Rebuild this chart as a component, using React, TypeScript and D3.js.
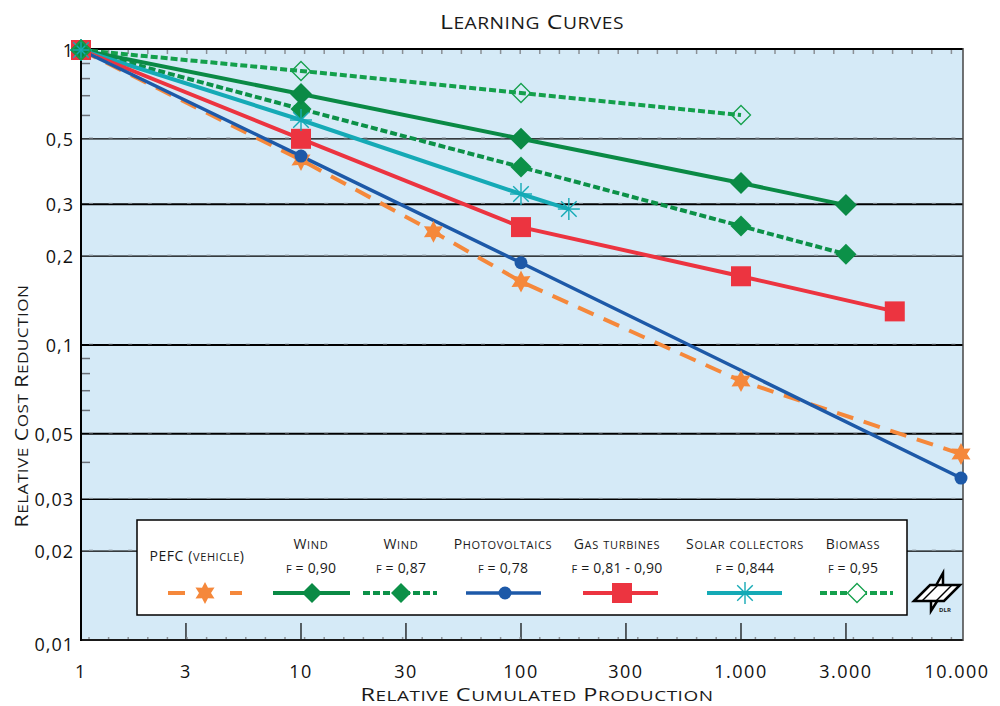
import React from "react";
import * as d3 from "d3";

// ---- data ----
const xTicks = [1, 3, 10, 30, 100, 300, 1000, 3000, 10000];
const xTickLabels = ["1", "3", "10", "30", "100", "300", "1.000", "3.000", "10.000"];
const yTicks = [1, 0.5, 0.3, 0.2, 0.1, 0.05, 0.03, 0.02, 0.01];
const yTickLabels = ["1", "0,5", "0,3", "0,2", "0,1", "0,05", "0,03", "0,02", "0,01"];
const yMinor = [0.9, 0.8, 0.7, 0.6, 0.09, 0.08, 0.07, 0.06, 0.04];

const pefcX = [1, 10, 40, 100, 1000, 10000];
const pefcY = [1, 0.424, 0.242, 0.164, 0.0755, 0.0427];
const wind90X = [1, 10, 100, 1000, 3000];
const wind90Y = [1, 0.709, 0.5, 0.354, 0.298];
const wind87X = [1, 10, 100, 1000, 3000];
const wind87Y = [1, 0.631, 0.401, 0.253, 0.203];
const pvX = [1, 10, 100, 10000];
const pvY = [1, 0.437, 0.19, 0.0354];
const gasX = [1, 10, 100, 1000, 5000];
const gasY = [1, 0.5, 0.251, 0.171, 0.13];
const solarX = [1, 10, 100, 165];
const solarY = [1, 0.579, 0.325, 0.289];
const bioX = [1, 10, 100, 1000];
const bioY = [1, 0.849, 0.715, 0.602];

const legendNames = ["Wind", "Wind", "Photovoltaics", "Gas turbines", "Solar collectors", "Biomass"];
const legendF = ["f = 0,90", "f = 0,87", "f = 0,78", "f = 0,81 - 0,90", "f = 0,844", "f = 0,95"];

const C = {
  orange: "#f5883b",
  green: "#0a8a45",
  green2: "#0c9148",
  blue: "#1d59a8",
  red: "#ec3440",
  teal: "#15aab6",
  bio: "#14a04c",
  bg: "#d5eaf7",
};

const FONT = "'Open Sans', 'DejaVu Sans', sans-serif";

const x = d3.scaleLog().domain([1, 10000]).range([81, 961]);
const y = d3.scaleLog().domain([0.01, 1]).range([640, 50]);

function starPath(cx: number, cy: number, R: number, r: number) {
  const pts: [number, number][] = [];
  for (let i = 0; i < 12; i++) {
    const a = -Math.PI / 2 + (i * Math.PI) / 6;
    const rr = i % 2 === 0 ? R : r;
    pts.push([cx + rr * Math.cos(a), cy + rr * Math.sin(a)]);
  }
  return "M" + pts.map((p) => p.join(",")).join("L") + "Z";
}

// small caps rendered with explicit sizes
function SC({ text, x: tx, y: ty, big, small, anchor = "middle", transform, textLength, spacing = 0.4, fill = "#1a1a1a" }: any) {
  const runs: { s: string; up: boolean }[] = [];
  for (const ch of text) {
    const isLower = ch !== ch.toUpperCase();
    const up = !isLower;
    const last = runs[runs.length - 1];
    if (last && last.up === up) last.s += ch;
    else runs.push({ s: ch, up });
  }
  return (
    <text
      x={tx}
      y={ty}
      textAnchor={anchor}
      transform={transform}
      textLength={textLength}
      lengthAdjust={textLength ? "spacingAndGlyphs" : undefined}
      letterSpacing={spacing}
      fill={fill}
    >
      {runs.map((r, i) => (
        <tspan key={i} fontSize={r.up ? big : small}>
          {r.s.toUpperCase()}
        </tspan>
      ))}
    </text>
  );
}

const Star = ({ cx, cy }: { cx: number; cy: number }) => (
  <path d={starPath(cx, cy, 11, 6)} fill={C.orange} />
);
const Diamond = ({ cx, cy, fill, stroke, r = 11 }: any) => (
  <path
    d={`M${cx},${cy - r}L${cx + r},${cy}L${cx},${cy + r}L${cx - r},${cy}Z`}
    fill={fill}
    stroke={stroke}
    strokeWidth={1.3}
  />
);
const Asterisk = ({ cx, cy }: { cx: number; cy: number }) => {
  const r = 11;
  const lines = [0, 45, 90, 135].map((a) => {
    const rad = (a * Math.PI) / 180;
    return (
      <line
        key={a}
        x1={cx - r * Math.cos(rad)}
        y1={cy - r * Math.sin(rad)}
        x2={cx + r * Math.cos(rad)}
        y2={cy + r * Math.sin(rad)}
        stroke={C.teal}
        strokeWidth={1.4}
      />
    );
  });
  return <g>{lines}</g>;
};

const line = (xs: number[], ys: number[]) =>
  d3
    .line<number>()
    .x((_, i) => x(xs[i]))
    .y((d) => y(d))(ys) as string;

export default function App() {
  const left = 81,
    right = 963,
    top = 50,
    bottom = 640;
  const gridMajor = [0.5, 0.3, 0.2, 0.1, 0.05, 0.03, 0.02];
  const thick = [0.3, 0.1, 0.05];
  const grayTicks: any[] = [];
  for (let xx = left + 8; xx < right; xx += 19.6) {
    grayTicks.push(<line key={"t" + xx} x1={xx} x2={xx} y1={top} y2={top + 4} stroke="#8a8f95" strokeWidth={1.5} />);
    grayTicks.push(<line key={"b" + xx} x1={xx} x2={xx} y1={bottom - 3} y2={bottom} stroke="#8a8f95" strokeWidth={1.5} />);
  }
  const legendCols = [311, 401, 503, 617, 745, 853];

  return (
    <svg
      width={1000}
      height={706}
      style={{ position: "absolute", left: 0, top: 0, fontFamily: FONT }}
    >
      <rect width={1000} height={706} fill="#fff" />
      {/* title */}
      <SC text="Learning Curves" x={532} y={29} big={20} small={15.5} textLength={184} />
      {/* plot background */}
      <rect x={left} y={top} width={right - left} height={bottom - top} fill={C.bg} />
      {/* gridlines */}
      {gridMajor.map((v) => (
        <g key={v}>
          <line x1={left} x2={right} y1={y(v)} y2={y(v)} stroke="#000" strokeWidth={thick.includes(v) ? 2 : 1.3} />
          <line x1={left + 8} x2={right} y1={y(v) - 1} y2={y(v) - 1} stroke="#9aa4ad" strokeWidth={1.2} strokeDasharray="4,15.6" opacity={0.8} />
        </g>
      ))}
      {yMinor.map((v) => (
        <line key={v} x1={left} x2={left + 9} y1={y(v)} y2={y(v)} stroke="#6b7078" strokeWidth={1.5} />
      ))}
      {xTicks.slice(1, -1).map((v) => (
        <line key={v} x1={x(v)} x2={x(v)} y1={bottom - 17} y2={bottom} stroke="#000" strokeWidth={1.2} />
      ))}
      {grayTicks}
      {/* frame */}
      <line x1={left} x2={right} y1={top - 1} y2={top - 1} stroke="#000" strokeWidth={2.2} />
      <line x1={left} x2={right} y1={bottom} y2={bottom} stroke="#1a1a1a" strokeWidth={2.2} />
      <line x1={left} x2={left} y1={top - 2} y2={bottom + 1} stroke="#000" strokeWidth={2} />
      <line x1={right} x2={right} y1={top - 2} y2={bottom + 1} stroke="#444" strokeWidth={1.5} />

      {/* series lines */}
      <path d={line(bioX, bioY)} fill="none" stroke={C.bio} strokeWidth={4} strokeDasharray="7,3" />
      <path d={line(wind87X, wind87Y)} fill="none" stroke={C.green2} strokeWidth={4} strokeDasharray="7,3" />
      <path d={line(wind90X, wind90Y)} fill="none" stroke={C.green} strokeWidth={4} />
      <path d={line(solarX, solarY)} fill="none" stroke={C.teal} strokeWidth={4} />
      <path d={line(gasX, gasY)} fill="none" stroke={C.red} strokeWidth={4} />
      <path d={line(pefcX, pefcY)} fill="none" stroke={C.orange} strokeWidth={4} strokeDasharray="17,11" />
      <path d={line(pvX, pvY)} fill="none" stroke={C.blue} strokeWidth={3.5} />

      {/* markers */}
      {pefcX.map((v, i) => <Star key={"s" + i} cx={x(v)} cy={y(pefcY[i])} />)}
      {pvX.map((v, i) => <circle key={"c" + i} cx={x(v)} cy={y(pvY[i])} r={6.5} fill={C.blue} />)}
      {gasX.map((v, i) => (
        <rect key={"g" + i} x={x(v) - 10} y={y(gasY[i]) - 10} width={20} height={20} fill={C.red} />
      ))}
      {wind87X.map((v, i) => <Diamond key={"w7" + i} cx={x(v)} cy={y(wind87Y[i])} fill={C.green2} r={10.5} />)}
      {wind90X.map((v, i) => <Diamond key={"w9" + i} cx={x(v)} cy={y(wind90Y[i])} fill={C.green} r={11} />)}
      {solarX.map((v, i) => <Asterisk key={"a" + i} cx={x(v)} cy={y(solarY[i])} />)}
      {bioX.map((v, i) => <Diamond key={"b" + i} cx={x(v)} cy={y(bioY[i])} fill="none" stroke={C.bio} r={9.5} />)}

      {/* y tick labels */}
      {yTicks.map((v, i) => (
        <text key={v} x={74} y={y(v) + (v === 0.01 ? 11 : 7)} textAnchor="end" fontSize={18} letterSpacing={1} fill="#111">
          {yTickLabels[i]}
        </text>
      ))}
      {/* x tick labels */}
      {xTicks.map((v, i) => (
        <text key={v} x={x(v) + (i === xTicks.length - 1 ? -4 : 0)} y={678} textAnchor="middle" fontSize={18} letterSpacing={1.5} fill="#111">
          {xTickLabels[i]}
        </text>
      ))}
      {/* axis titles */}
      <SC text="Relative Cumulated Production" x={537} y={701} big={18} small={14.5} textLength={353} />
      <SC text="Relative Cost Reduction" transform="translate(28,406) rotate(-90)" x={0} y={0} big={18} small={14.5} textLength={243} />

      {/* legend */}
      <rect x={137} y={520} width={770} height={95} fill="#fff" stroke="#000" strokeWidth={1.5} />
      <SC text="PEFC (vehicle)" x={197} y={561} big={14} small={11} spacing={0.6} />
      <line x1={168} x2={185} y1={593} y2={593} stroke={C.orange} strokeWidth={4} />
      <line x1={230} x2={242} y1={593} y2={593} stroke={C.orange} strokeWidth={4} />
      <Star cx={205} cy={593} />
      {legendNames.map((n, i) => (
        <g key={i}>
          <SC text={n} x={legendCols[i]} y={549} big={14} small={11} spacing={0.7} />
          <SC text={legendF[i]} x={legendCols[i]} y={573} big={14} small={11} spacing={0.2} />
        </g>
      ))}
      <line x1={273} x2={350} y1={593} y2={593} stroke={C.green} strokeWidth={4} />
      <Diamond cx={312} cy={593} fill={C.green} r={10} />
      <line x1={363} x2={437} y1={593} y2={593} stroke={C.green2} strokeWidth={4} strokeDasharray="7,3" />
      <Diamond cx={401} cy={593} fill={C.green2} r={10} />
      <line x1={466} x2={541} y1={593} y2={593} stroke={C.blue} strokeWidth={3.5} />
      <circle cx={505} cy={593} r={6.5} fill={C.blue} />
      <line x1={583} x2={658} y1={593} y2={593} stroke={C.red} strokeWidth={4} />
      <rect x={612} y={583} width={20} height={20} fill={C.red} />
      <line x1={707} x2={782} y1={593} y2={593} stroke={C.teal} strokeWidth={4} />
      <Asterisk cx={745} cy={593} />
      <line x1={820} x2={893} y1={593} y2={593} stroke={C.bio} strokeWidth={4} strokeDasharray="7,3" />
      <Diamond cx={857} cy={593} fill="#fff" stroke={C.bio} r={9.5} />

      {/* DLR logo */}
      <g stroke="#000" strokeWidth={2.5} fill="#fff" strokeLinejoin="miter">
        <path d="M943,573 L943,591 L933,591 Z" />
        <path d="M931,593 L931,611 L941,595 Z" />
        <path d="M914,601 L930,585 L960,585 L944,601 Z" />
        <line x1={922} y1={601} x2={938} y2={585} strokeWidth={1.5} />
        <line x1={936} y1={601} x2={952} y2={585} strokeWidth={1.5} />
      </g>
      <text x={945} y={612} fontSize={6} fontWeight="bold" fill="#222" textAnchor="middle">DLR</text>
    </svg>
  );
}
